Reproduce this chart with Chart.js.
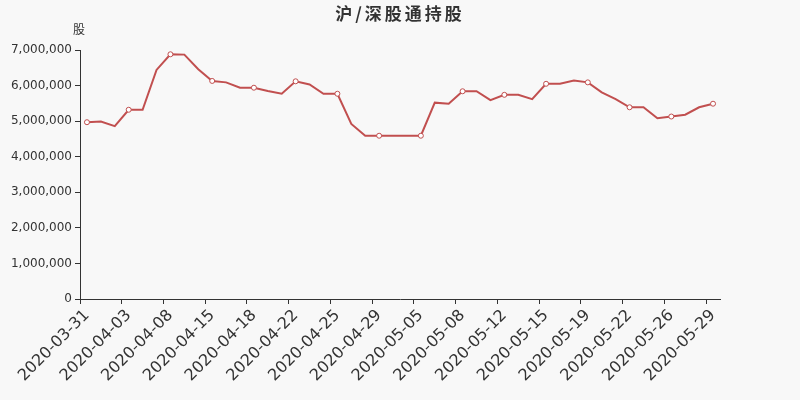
<!DOCTYPE html>
<html>
<head>
<meta charset="utf-8">
<script src="https://cdn.jsdelivr.net/npm/chart.js@4.4.0/dist/chart.umd.min.js"></script>
<style>
  html, body { margin: 0; padding: 0; background: #f8f8f8; }
  #wrap { width: 800px; height: 400px; }
</style>
</head>
<body>
<div id="wrap"><canvas id="holdChart"></canvas></div>
<script>
// 日期（每3个显示一个标签）
const dates = [
  '2020-03-31', '2020-04-01', '2020-04-02', '2020-04-03', '2020-04-04', '2020-04-07',
  '2020-04-08', '2020-04-10', '2020-04-14', '2020-04-15', '2020-04-16', '2020-04-17',
  '2020-04-18', '2020-04-20', '2020-04-21', '2020-04-22', '2020-04-23', '2020-04-24',
  '2020-04-25', '2020-04-27', '2020-04-28', '2020-04-29', '2020-04-30', '2020-05-01',
  '2020-05-05', '2020-05-06', '2020-05-07', '2020-05-08', '2020-05-09', '2020-05-11',
  '2020-05-12', '2020-05-13', '2020-05-14', '2020-05-15', '2020-05-16', '2020-05-18',
  '2020-05-19', '2020-05-20', '2020-05-21', '2020-05-22', '2020-05-23', '2020-05-25',
  '2020-05-26', '2020-05-27', '2020-05-28', '2020-05-29'
];

// 持股数量（股）
const holdings = [
  4970000, 4990000, 4860000, 5320000, 5320000, 6440000,
  6880000, 6870000, 6460000, 6130000, 6090000, 5940000,
  5940000, 5850000, 5770000, 6120000, 6030000, 5770000,
  5770000, 4920000, 4590000, 4590000, 4590000, 4590000,
  4590000, 5520000, 5490000, 5840000, 5840000, 5590000,
  5740000, 5740000, 5620000, 6050000, 6050000, 6140000,
  6090000, 5810000, 5620000, 5390000, 5390000, 5080000,
  5130000, 5180000, 5390000, 5490000
];

const yTicks = [0, 1000000, 2000000, 3000000, 4000000, 5000000, 6000000, 7000000];

const titleText = '沪/深股通持股';
const unitText = '股';
const lineColor = '#c14f4f';
const textColor = '#333';

// 背景 + 标题 + 单位
const decorPlugin = {
  id: 'decor',
  beforeDraw(chart) {
    const ctx = chart.ctx;
    ctx.save();
    ctx.fillStyle = '#f8f8f8';
    ctx.fillRect(0, 0, chart.width, chart.height);
    ctx.restore();
  },
  afterDraw(chart) {
    const ctx = chart.ctx;
    ctx.save();
    ctx.fillStyle = textColor;
    ctx.textBaseline = 'middle';
    ctx.textAlign = 'center';
    ctx.font = 'bold 17px "Noto Sans CJK SC", "DejaVu Sans", sans-serif';
    if ('letterSpacing' in ctx) ctx.letterSpacing = '3px';
    ctx.fillText(titleText, 400, 14);
    if ('letterSpacing' in ctx) ctx.letterSpacing = '0px';
    ctx.font = '12px "Noto Sans CJK SC", "DejaVu Sans", sans-serif';
    ctx.fillText(unitText, 79, 29);
    ctx.restore();
  }
};

new Chart(document.getElementById('holdChart'), {
  type: 'line',
  data: {
    labels: dates,
    datasets: [{
      data: holdings,
      borderColor: lineColor,
      borderWidth: 2,
      backgroundColor: '#fff',
      pointBackgroundColor: '#fff',
      pointBorderColor: lineColor,
      pointBorderWidth: 1,
      pointRadius: ctx => (ctx.dataIndex % 3 === 0 ? 2.5 : 0),
      pointHoverRadius: 3,
      tension: 0,
      fill: false
    }]
  },
  options: {
    responsive: true,
    maintainAspectRatio: false,
    animation: false,
    layout: { padding: { top: 50, right: 80, left: 0, bottom: 0 } },
    plugins: {
      legend: { display: false },
      title: { display: false },
      tooltip: { enabled: true }
    },
    scales: {
      x: {
        type: 'category',
        offset: true,
        afterFit: scale => { scale.height = 101; },
        border: { display: true, color: textColor, width: 1 },
        grid: {
          offset: true,
          drawOnChartArea: false,
          drawTicks: true,
          tickLength: 5,
          color: ctx => (ctx.index % 3 === 0 ? textColor : 'rgba(0,0,0,0)')
        },
        ticks: {
          autoSkip: false,
          maxRotation: 45,
          minRotation: 45,
          padding: 2,
          color: textColor,
          font: { size: 16, family: '"DejaVu Sans", sans-serif' },
          callback: (v, i) => (i % 3 === 0 ? dates[i] : '')
        }
      },
      y: {
        min: 0,
        max: 7000000,
        afterFit: scale => { scale.width = 80; },
        afterBuildTicks: scale => { scale.ticks = yTicks.map(v => ({ value: v })); },
        border: { display: true, color: textColor, width: 1 },
        grid: {
          drawOnChartArea: false,
          drawTicks: true,
          tickLength: 5,
          color: textColor
        },
        ticks: {
          padding: 3,
          color: textColor,
          font: { size: 12, family: '"DejaVu Sans", sans-serif' },
          callback: v => v.toLocaleString('en-US')
        }
      }
    }
  },
  plugins: [decorPlugin]
});
</script>
</body>
</html>
